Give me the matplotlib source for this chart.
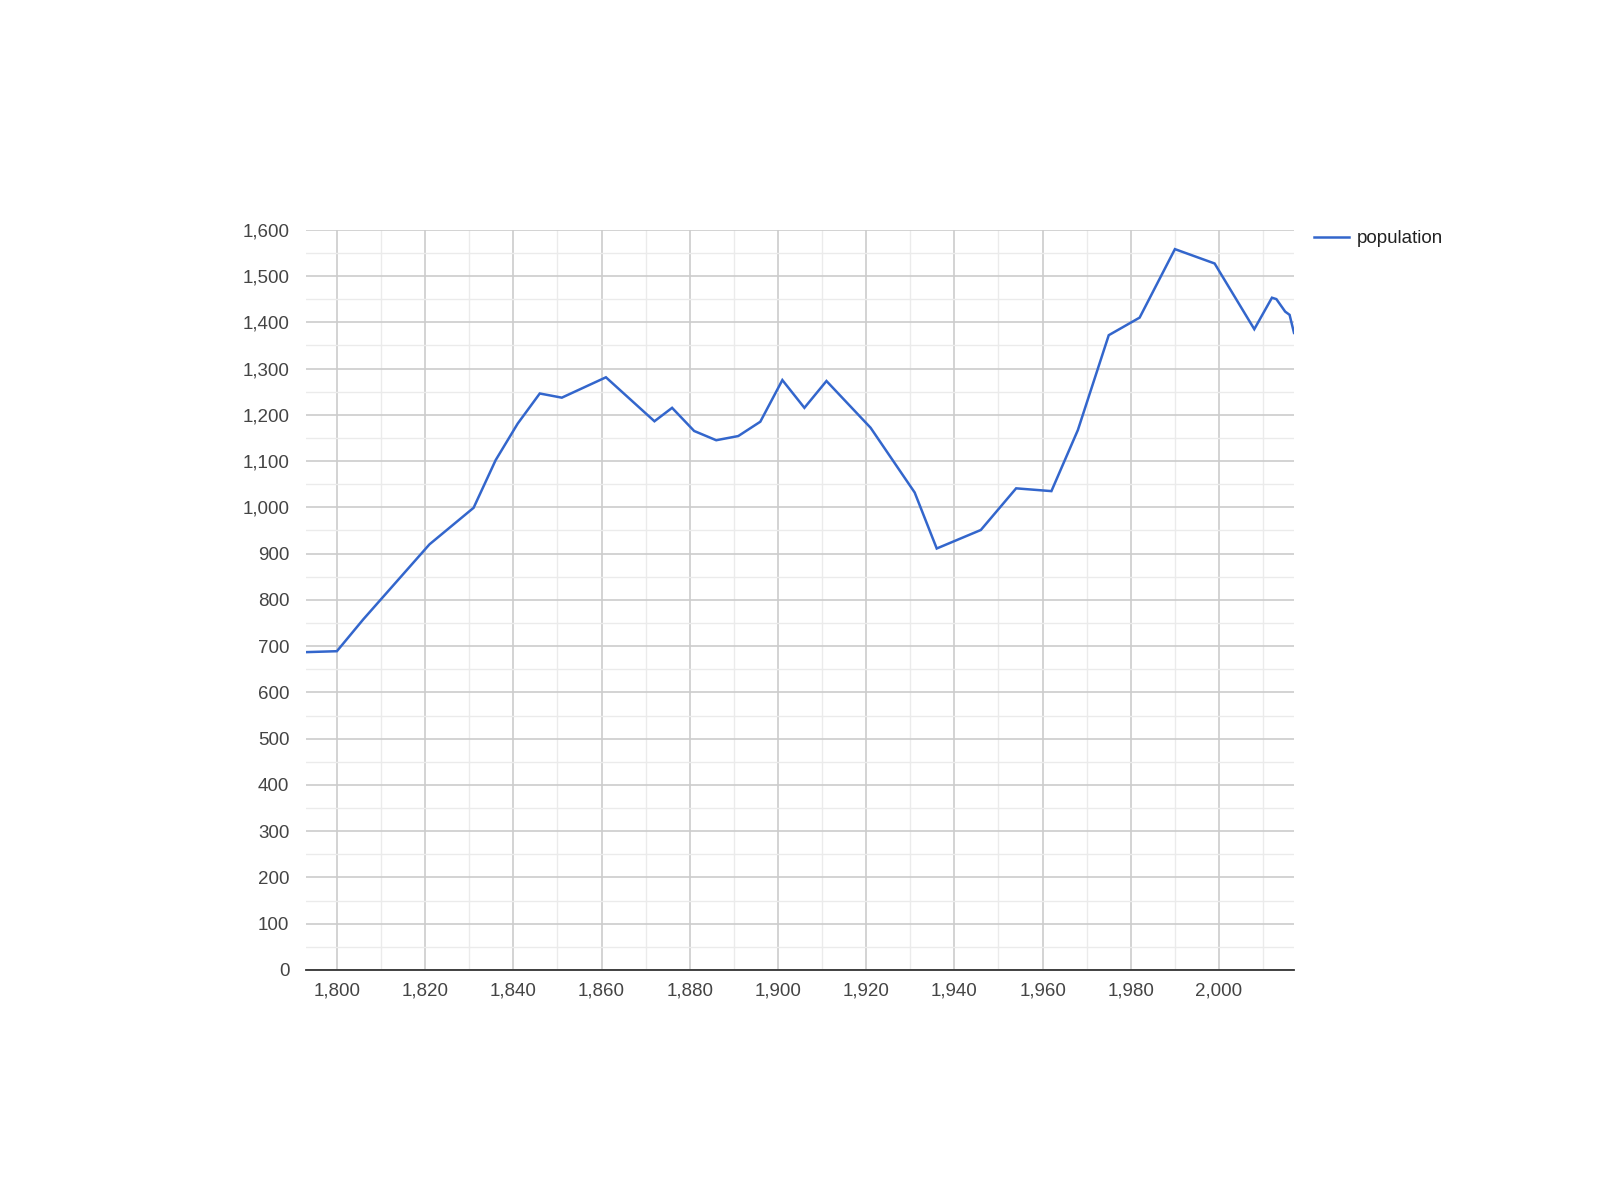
import matplotlib
matplotlib.use("Agg")
import matplotlib.pyplot as plt
from matplotlib.ticker import MultipleLocator, FuncFormatter

plt.rcParams['font.family'] = ['Liberation Sans', 'DejaVu Sans']

# population by census year
years = [1793, 1800, 1806, 1821, 1831, 1836, 1841, 1846, 1851, 1861,
         1872, 1876, 1881, 1886, 1891, 1896, 1901, 1906, 1911, 1921,
         1931, 1936, 1946, 1954, 1962, 1968, 1975, 1982, 1990, 1999,
         2008, 2012, 2013, 2015, 2016, 2017]
population = [687, 689, 758, 920, 999, 1102, 1181, 1246, 1237, 1281,
              1186, 1215, 1165, 1145, 1154, 1185, 1275, 1215, 1273, 1172,
              1032, 911, 951, 1041, 1035, 1167, 1372, 1410, 1558, 1527,
              1385, 1453, 1450, 1423, 1416, 1377]
series_name = "population"

fig = plt.figure(figsize=(16, 12), dpi=100)
ax = fig.add_axes([0.19125, 0.19167, 0.6175, 0.61691])

ax.plot(years, population, color="#3366cc", linewidth=1.8, label=series_name,
        solid_joinstyle="miter", zorder=3, clip_on=True)

ax.set_xlim(years[0], years[-1])
ax.set_ylim(0, 1600)

ax.xaxis.set_major_locator(MultipleLocator(20))
ax.xaxis.set_minor_locator(MultipleLocator(10))
ax.yaxis.set_major_locator(MultipleLocator(100))
ax.yaxis.set_minor_locator(MultipleLocator(50))
fmt = FuncFormatter(lambda v, p: f"{int(v):,}")
ax.xaxis.set_major_formatter(fmt)
ax.yaxis.set_major_formatter(fmt)

ax.grid(which="major", color="#cccccc", linewidth=1.2, zorder=0)
ax.grid(which="minor", color="#ebebeb", linewidth=1.0, zorder=0)
ax.set_axisbelow(True)

for side in ["top", "right", "left"]:
    ax.spines[side].set_visible(False)
ax.spines["bottom"].set_color("#333333")
ax.spines["bottom"].set_linewidth(1.3)

ax.tick_params(which="both", length=0)
ax.tick_params(axis="y", pad=12, labelsize=13.5, labelcolor="#444444")
ax.tick_params(axis="x", pad=9, labelsize=13.5, labelcolor="#444444")

leg = fig.legend(loc="upper left", bbox_to_anchor=(0.8165, 0.8145),
                 frameon=False, fontsize=13.5, handlelength=1.85,
                 handletextpad=0.45, borderaxespad=0)
for t in leg.get_texts():
    t.set_color("#222222")

fig.savefig("out.png", dpi=100)
